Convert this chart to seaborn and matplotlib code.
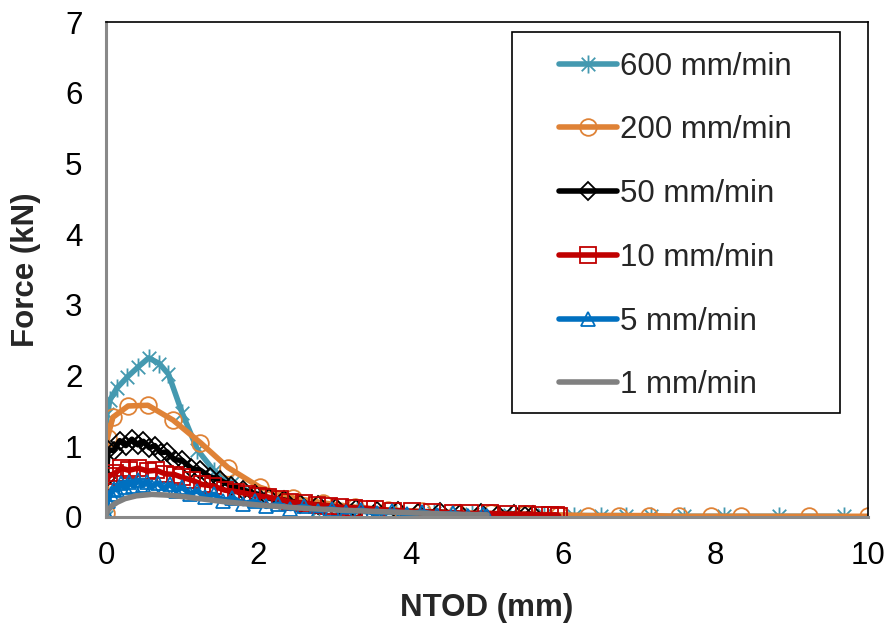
import numpy as np
import matplotlib

matplotlib.use("Agg")
import matplotlib.pyplot as plt
from matplotlib.path import Path
from matplotlib.patches import Rectangle
import seaborn as sns

# 600 mm/min
x600 = [0.00, 0.01, 0.05, 0.14, 0.28, 0.42, 0.56, 0.70, 0.82, 1.00, 1.20, 1.42, 1.65, 1.95,
        2.35, 2.80, 3.30, 3.80, 4.30, 4.80, 5.30, 5.75, 6.14, 6.49, 6.82, 7.15, 7.58, 8.11,
        8.83, 9.68]
y600 = [0.00, 1.45, 1.65, 1.82, 1.98, 2.12, 2.25, 2.17, 2.02, 1.47, 0.95, 0.65, 0.48, 0.32,
        0.20, 0.12, 0.08, 0.06, 0.05, 0.04, 0.03, 0.03, 0.02, 0.02, 0.02, 0.01, 0.01, 0.01,
        0.01, 0.01]

# 200 mm/min
x200 = [0.00, 0.02, 0.09, 0.29, 0.55, 0.88, 1.24, 1.60, 2.02, 2.46, 2.85, 3.27, 3.70, 4.15,
        4.60, 5.05, 5.50, 5.95, 6.33, 6.73, 7.12, 7.52, 7.94, 8.33, 9.22, 10.00]
y200 = [0.05, 1.12, 1.41, 1.57, 1.58, 1.37, 1.05, 0.70, 0.42, 0.27, 0.20, 0.14, 0.10, 0.08,
        0.06, 0.05, 0.04, 0.03, 0.02, 0.02, 0.02, 0.01, 0.01, 0.01, 0.01, 0.01]

# 50 mm/min
x50 = [0.00, 0.03, 0.10, 0.18, 0.26, 0.34, 0.42, 0.49, 0.57, 0.64, 0.72, 0.80, 0.90, 1.00,
       1.12, 1.24, 1.36, 1.50, 1.64, 1.80, 1.96, 2.14, 2.34, 2.55, 2.78, 3.02, 3.28, 3.55,
       3.83, 4.10, 4.38, 4.65, 4.92, 5.15, 5.35, 5.50, 5.60]
y50 = [0.55, 0.95, 0.94, 1.08, 1.01, 1.10, 1.02, 1.07, 0.98, 1.01, 0.91, 0.92, 0.81, 0.80,
       0.69, 0.66, 0.57, 0.52, 0.44, 0.38, 0.33, 0.27, 0.24, 0.19, 0.17, 0.13, 0.12, 0.09,
       0.09, 0.06, 0.07, 0.04, 0.05, 0.03, 0.04, 0.02, 0.03]

# 10 mm/min
x10 = [0.00, 0.04, 0.12, 0.20, 0.30, 0.42, 0.55, 0.66, 0.78, 0.90, 1.00, 1.13, 1.26, 1.40,
       1.56, 1.70, 1.85, 2.00, 2.13, 2.28, 2.42, 2.60, 2.77, 2.92, 3.07, 3.25, 3.43, 3.53,
       3.76, 4.02, 4.28, 4.56, 4.78, 5.04, 5.28, 5.53, 5.70, 5.83, 5.90, 5.94]
y10 = [0.50, 0.58, 0.62, 0.69, 0.66, 0.69, 0.65, 0.66, 0.61, 0.60, 0.56, 0.52, 0.46, 0.44,
       0.38, 0.36, 0.33, 0.30, 0.28, 0.25, 0.21, 0.20, 0.17, 0.16, 0.14, 0.13, 0.12, 0.11,
       0.09, 0.08, 0.07, 0.06, 0.05, 0.05, 0.04, 0.04, 0.03, 0.03, 0.03, 0.02]

# 5 mm/min
x5 = [0.00, 0.02, 0.06, 0.10, 0.15, 0.20, 0.25, 0.30, 0.36, 0.42, 0.48, 0.54, 0.60, 0.68,
      0.76, 0.84, 0.92, 1.00, 1.10, 1.20, 1.30, 1.42, 1.54, 1.66, 1.80, 1.95, 2.10, 2.26,
      2.42, 2.60, 2.78, 2.96, 3.15, 3.35, 3.55, 3.75, 3.95, 4.15, 4.35, 4.55, 4.75, 4.95,
      5.00]
y5 = [0.05, 0.22, 0.32, 0.40, 0.38, 0.48, 0.42, 0.50, 0.44, 0.52, 0.45, 0.50, 0.43, 0.48,
      0.40, 0.46, 0.37, 0.42, 0.33, 0.37, 0.28, 0.32, 0.23, 0.27, 0.19, 0.22, 0.15, 0.18,
      0.12, 0.15, 0.09, 0.12, 0.07, 0.10, 0.05, 0.08, 0.04, 0.07, 0.03, 0.05, 0.02, 0.04,
      0.02]

# 1 mm/min
x1 = [0.00, 0.03, 0.08, 0.15, 0.25, 0.40, 0.60, 0.80, 1.00, 1.30, 1.60, 2.00, 2.50, 3.00,
      3.50, 4.00, 4.50, 5.00]
y1 = [0.03, 0.10, 0.16, 0.21, 0.26, 0.30, 0.32, 0.31, 0.29, 0.25, 0.21, 0.17, 0.13, 0.10,
      0.08, 0.06, 0.04, 0.03]

labels = ["600 mm/min", "200 mm/min", "50 mm/min", "10 mm/min", "5 mm/min", "1 mm/min"]
colors = ["#4499B0", "#DF8236", "#000000", "#C00000", "#0070C0", "#808080"]
x_ticks = [0, 2, 4, 6, 8, 10]
y_ticks = [0, 1, 2, 3, 4, 5, 6, 7]

# asterisk marker: vertical bar plus an X
star = Path(
    [(0, -1), (0, 1), (-0.75, -0.75), (0.75, 0.75), (-0.75, 0.75), (0.75, -0.75)],
    [Path.MOVETO, Path.LINETO, Path.MOVETO, Path.LINETO, Path.MOVETO, Path.LINETO],
)
markers = [star, "o", "D", "s", "^", None]
msizes = [13, 12, 9, 11, 10, 0]

sns.set_style("white")
plt.rcParams["font.family"] = ["Liberation Sans", "DejaVu Sans"]

fig = plt.figure(figsize=(8.91, 6.3), dpi=100)
ax = fig.add_axes([106 / 891, 1 - 517 / 630, 762 / 891, 495 / 630])

data = [(x600, y600), (x200, y200), (x50, y50), (x10, y10), (x5, y5), (x1, y1)]
for (xs, ys), lab, col, mk, ms in zip(data, labels, colors, markers, msizes):
    sns.lineplot(
        x=xs, y=ys, ax=ax, sort=False, estimator=None, color=col, lw=4,
        marker=mk, markersize=ms, markerfacecolor="none", markeredgecolor=col,
        markeredgewidth=1.3, label=lab, legend=False,
    )

ax.set_xlim(0, 10)
ax.set_ylim(0, 7)
ax.set_xticks(x_ticks)
ax.set_yticks(y_ticks)

for s in ["left", "bottom"]:
    ax.spines[s].set_color("#898989")
    ax.spines[s].set_linewidth(2.2)
for s in ["top", "right"]:
    ax.spines[s].set_color("black")
    ax.spines[s].set_linewidth(1.2)
ax.tick_params(axis="both", direction="in", length=7, width=1.6, color="#898989",
               labelsize=22.5, labelcolor="black")
ax.tick_params(axis="y", pad=17)
ax.tick_params(axis="x", pad=17)

ax.set_xlabel("NTOD (mm)", fontsize=22.5, fontweight="bold", labelpad=16)
ax.set_ylabel("Force (kN)", fontsize=22.5, fontweight="bold", labelpad=17)

# legend box (drawn separately, wider than matplotlib's padding allows)
box_x0, box_x1 = (512 - 106) / 762, (840 - 106) / 762
box_y0, box_y1 = (517 - 413) / 495, (517 - 32) / 495
ax.add_patch(Rectangle((box_x0, box_y0), box_x1 - box_x0, box_y1 - box_y0,
                       transform=ax.transAxes, facecolor="white", edgecolor="black",
                       lw=1.2, zorder=4))

handles, labs = ax.get_legend_handles_labels()
leg = ax.legend(
    handles, labs, loc="center", bbox_to_anchor=((box_x0 + box_x1) / 2 - 0.001,
                                                 (box_y0 + box_y1) / 2 - 0.007),
    fontsize=22.5, frameon=False, handlelength=1.85, handletextpad=0.1,
    labelspacing=1.08, borderpad=0,
)
leg.set_zorder(5)

fig.savefig("out.png", dpi=100)
